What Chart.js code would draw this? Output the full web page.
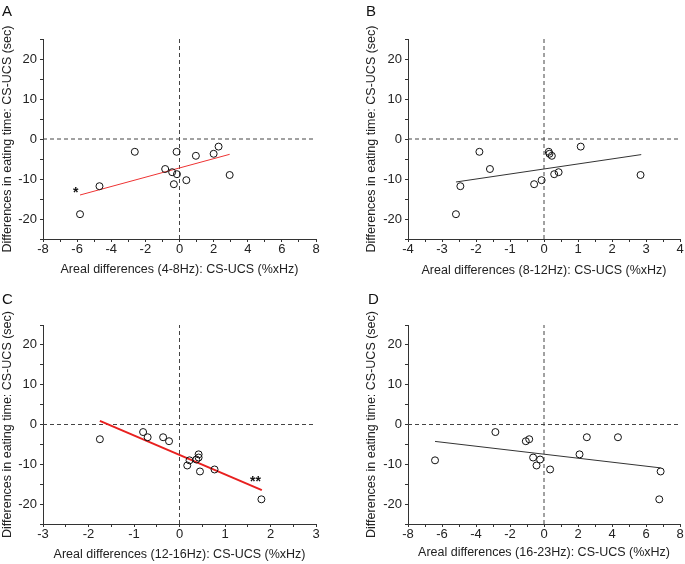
<!DOCTYPE html>
<html>
<head>
<meta charset="utf-8">
<script src="https://cdn.jsdelivr.net/npm/chart.js@4.4.1/dist/chart.umd.min.js"></script>
<style>
  html, body { margin:0; padding:0; background:#fff; }
  body { width:685px; height:564px; position:relative; overflow:hidden; font-family:"Liberation Sans", Arial, sans-serif; }
  .pane { position:absolute; }
  .lbl { position:absolute; font-size:15px; color:#111; line-height:15px; }
</style>
</head>
<body>
<div class="pane" style="left:0;top:0;"><canvas id="cA" width="340" height="282"></canvas></div>
<div class="pane" style="left:340px;top:0;"><canvas id="cB" width="345" height="282"></canvas></div>
<div class="pane" style="left:0;top:282px;"><canvas id="cC" width="340" height="282"></canvas></div>
<div class="pane" style="left:340px;top:282px;"><canvas id="cD" width="345" height="282"></canvas></div>
<div class="lbl" style="left:2px;top:3px;">A</div>
<div class="lbl" style="left:366px;top:3px;">B</div>
<div class="lbl" style="left:2px;top:291px;">C</div>
<div class="lbl" style="left:368px;top:291px;">D</div>
<script>
// ---- data ----
const yTitle = 'Differences in eating time: CS-UCS (sec)';
const xTitleA = 'Areal differences (4-8Hz): CS-UCS (%xHz)';
const xTitleB = 'Areal differences (8-12Hz): CS-UCS (%xHz)';
const xTitleC = 'Areal differences (12-16Hz): CS-UCS (%xHz)';
const xTitleD = 'Areal differences (16-23Hz): CS-UCS (%xHz)';

const aX = [-2.62, -0.17, 0.96, 2.00, 2.29, 2.94, -0.84, -0.43, -0.15, -0.33, 0.40, -4.69, -5.83];
const aY = [-3.2, -3.2, -4.2, -3.7, -1.9, -9.0, -7.5, -8.3, -8.8, -11.3, -10.3, -11.8, -18.8];
const aFitX = [-5.83, 2.94];
const aFitY = [-14.0, -3.83];

const bX = [-2.59, -2.46, -1.90, -1.59, -0.29, -0.07, 0.14, 0.16, 0.23, 0.30, 0.43, 1.08, 2.84];
const bY = [-18.8, -11.8, -3.2, -7.5, -11.3, -10.3, -3.2, -3.7, -4.2, -8.8, -8.3, -1.9, -9.0];
const bFitX = [-2.59, 2.86];
const bFitY = [-10.75, -3.9];

const cX = [-1.75, -0.80, -0.70, -0.36, -0.23, 0.42, 0.42, 0.37, 0.22, 0.17, 0.45, 0.77, 1.80];
const cY = [-3.7, -1.9, -3.2, -3.2, -4.2, -7.5, -8.3, -8.8, -9.0, -10.3, -11.8, -11.3, -18.8];
const cFitX = [-1.75, 1.81];
const cFitY = [0.9, -16.5];

const dX = [-6.41, -2.86, -1.07, -0.87, -0.64, -0.44, -0.23, 0.36, 2.09, 2.52, 4.35, 6.86, 6.78];
const dY = [-9.0, -1.9, -4.2, -3.7, -8.3, -10.3, -8.8, -11.3, -7.5, -3.2, -3.2, -11.8, -18.8];
const dFitX = [-6.41, 6.86];
const dFitY = [-4.25, -10.9];

const yRange = [-25, 25];
const yMinorStep = 5, yLabelStep = 10;
const xRangeA = [-8, 8], xRangeB = [-4, 4], xRangeC = [-3, 3], xRangeD = [-8, 8];
const xMinorA = 1, xMinorB = 0.5, xMinorC = 0.5, xMinorD = 1;
const xLabelA = 2, xLabelB = 1, xLabelC = 1, xLabelD = 2;

const starA = { x: -6.08, y: -12.5, text: '*' };
const starC = { x: 1.67, y: -13.5, text: '**' };

// ---- helpers ----
const FONT = '"Liberation Sans", Arial, sans-serif';
const AXC = '#333';

function pts(xs, ys) { return xs.map((x, i) => ({ x: x, y: ys[i] })); }

const annotPlugin = {
  id: 'annot',
  afterDatasetsDraw(chart, args, opts) {
    if (!opts || !opts.text) return;
    const ctx = chart.ctx;
    const px = chart.scales.x.getPixelForValue(opts.x);
    const py = chart.scales.y.getPixelForValue(opts.y);
    ctx.save();
    ctx.font = 'bold 14px ' + FONT;
    ctx.fillStyle = '#111';
    ctx.textAlign = 'center';
    ctx.textBaseline = 'alphabetic';
    ctx.fillText(opts.text, px, py + 0.57 * 14);
    ctx.restore();
  }
};

function makeChart(id, cfg) {
  const isMultiple = (v, step) => Math.abs(v / step - Math.round(v / step)) < 1e-6;
  return new Chart(document.getElementById(id), {
    type: 'scatter',
    data: {
      datasets: [
        { data: pts(cfg.x, cfg.y), showLine: false, pointRadius: 3.5, pointHoverRadius: 3.5,
          pointBorderWidth: 1, borderColor: '#111', backgroundColor: 'rgba(255,255,255,0)', order: 0 },
        { data: pts(cfg.fitX, cfg.fitY), showLine: true, pointRadius: 0, borderColor: cfg.fitColor,
          borderWidth: cfg.fitWidth, fill: false, order: 1 },
        { data: [{ x: 0, y: yRange[0] }, { x: 0, y: yRange[1] }], showLine: true, pointRadius: 0,
          borderColor: '#444', borderWidth: 1, borderDash: [4, 3], order: 2 },
        { data: [{ x: cfg.xr[0], y: 0 }, { x: cfg.xr[1], y: 0 }], showLine: true, pointRadius: 0,
          borderColor: '#444', borderWidth: 1, borderDash: [4, 3], order: 2 }
      ]
    },
    options: {
      responsive: false,
      animation: false,
      devicePixelRatio: 1,
      layout: { padding: { top: cfg.padTop, right: cfg.padRight, left: 0, bottom: 0 } },
      plugins: { legend: { display: false }, tooltip: { enabled: false }, annot: cfg.annot || {} },
      scales: {
        x: {
          type: 'linear', min: cfg.xr[0], max: cfg.xr[1],
          afterFit: s => { s.height = cfg.xH; },
          border: { display: true, color: AXC, width: 1 },
          grid: { display: true, drawOnChartArea: false, drawTicks: true, tickLength: 3, color: AXC },
          ticks: { stepSize: cfg.xMinor, autoSkip: false, maxRotation: 0, padding: 0, color: '#222',
                   font: { family: FONT, size: 13 },
                   callback: v => isMultiple(v, cfg.xLabel) ? String(Math.round(v)) : '' },
          title: { display: true, text: cfg.xTitle, color: '#222', font: { family: FONT, size: 12.5 },
                   padding: { top: 0, bottom: cfg.xTitlePad } }
        },
        y: {
          type: 'linear', min: yRange[0], max: yRange[1],
          afterFit: s => { s.width = cfg.yW; },
          border: { display: true, color: AXC, width: 1 },
          grid: { display: true, drawOnChartArea: false, drawTicks: true, tickLength: 3, color: AXC },
          ticks: { stepSize: yMinorStep, autoSkip: false, padding: 3, color: '#222',
                   font: { family: FONT, size: 13 },
                   callback: v => isMultiple(v, yLabelStep) ? String(Math.round(v)) : '' },
          title: { display: true, text: yTitle, color: '#222', font: { family: FONT, size: 12.5 },
                   padding: { top: cfg.yTitlePad, bottom: 0 } }
        }
      }
    },
    plugins: [annotPlugin]
  });
}

makeChart('cA', { x: aX, y: aY, fitX: aFitX, fitY: aFitY, fitColor: '#ee3333', fitWidth: 1,
  xr: xRangeA, xMinor: xMinorA, xLabel: xLabelA, xTitle: xTitleA,
  padTop: 39, padRight: 24, xH: 43, yW: 43, xTitlePad: 4.5, yTitlePad: 0.5, annot: starA });
makeChart('cB', { x: bX, y: bY, fitX: bFitX, fitY: bFitY, fitColor: '#333', fitWidth: 1,
  xr: xRangeB, xMinor: xMinorB, xLabel: xLabelB, xTitle: xTitleB,
  padTop: 39, padRight: 5, xH: 43, yW: 68, xTitlePad: 3.5, yTitlePad: 24.5 });
makeChart('cC', { x: cX, y: cY, fitX: cFitX, fitY: cFitY, fitColor: '#e8201f', fitWidth: 2,
  xr: xRangeC, xMinor: xMinorC, xLabel: xLabelC, xTitle: xTitleC,
  padTop: 43, padRight: 24, xH: 40, yW: 43, xTitlePad: 2, yTitlePad: 0.5, annot: starC });
makeChart('cD', { x: dX, y: dY, fitX: dFitX, fitY: dFitY, fitColor: '#333', fitWidth: 1,
  xr: xRangeD, xMinor: xMinorD, xLabel: xLabelD, xTitle: xTitleD,
  padTop: 43, padRight: 5, xH: 40, yW: 68, xTitlePad: 3.5, yTitlePad: 24.5 });
</script>
</body>
</html>
